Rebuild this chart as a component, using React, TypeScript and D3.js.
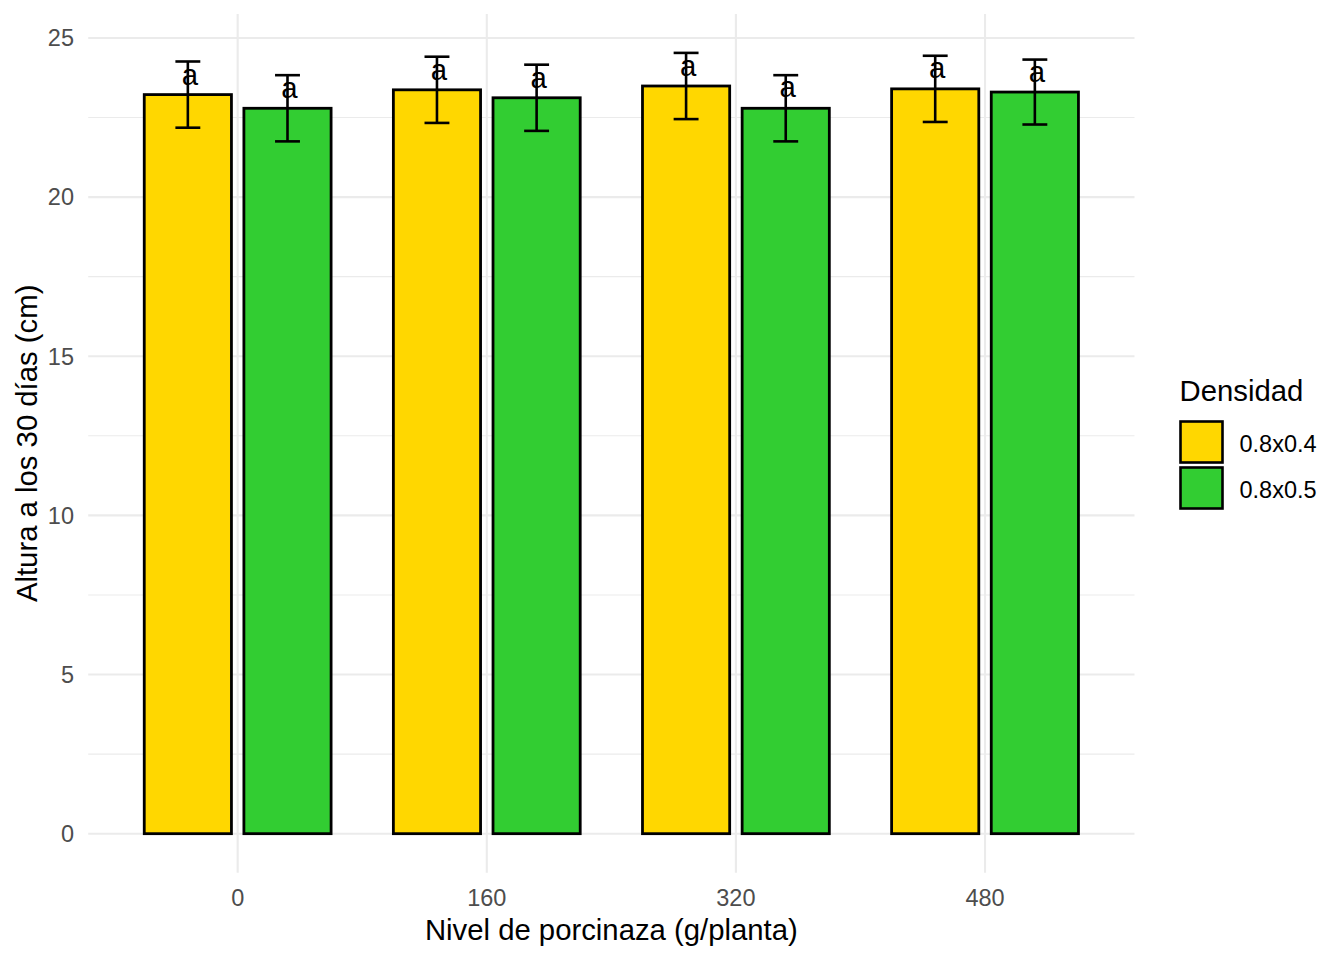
import React from "react";
import * as d3 from "d3";

const categories = ["0", "160", "320", "480"];
const series = ["0.8x0.4", "0.8x0.5"];
const seriesColors = ["#FFD700", "#32CD32"];
const meanA = [23.22, 23.37, 23.49, 23.40];
const meanB = [22.79, 23.12, 22.79, 23.30];
const seA = [1.04, 1.04, 1.04, 1.04];
const seB = [1.04, 1.04, 1.04, 1.02];
const lettersA = ["a", "a", "a", "a"];
const lettersB = ["a", "a", "a", "a"];
const labelYA = [23.76, 23.92, 24.05, 23.97];
const labelYB = [23.35, 23.68, 23.37, 23.87];
const yTicks = [0, 5, 10, 15, 20, 25];
const yMinor = [2.5, 7.5, 12.5, 17.5, 22.5];

const W = 1344;
const H = 960;
const panel = { left: 88.2, right: 1134.5, top: 14, bottom: 872.7 };
const FONT = "'Liberation Sans', Arial, sans-serif";

export default function App() {
  const means = [meanA, meanB];
  const ses = [seA, seB];
  const letters = [lettersA, lettersB];
  const labelYs = [labelYA, labelYB];

  const x = d3
    .scaleBand<string>()
    .domain(categories)
    .range([panel.left, panel.right])
    .paddingInner(0)
    .paddingOuter(0.1);
  const step = x.step();
  const xs = d3
    .scaleBand<string>()
    .domain(series)
    .range([-0.4 * step, 0.4 * step])
    .paddingInner(0.125)
    .paddingOuter(0.0625);
  const y = d3.scaleLinear().domain([-1.226, 25.752]).range([panel.bottom, panel.top]);
  const cx = (c: string) => (x(c) as number) + x.bandwidth() / 2;
  const capW = 0.1 * step;

  return (
    <svg width={W} height={H} style={{ display: "block", position: "absolute", left: 0, top: 0 }}>
      <rect width={W} height={H} fill="#FFFFFF" />
      {yMinor.map((v) => (
        <line key={"mn" + v} x1={panel.left} x2={panel.right} y1={y(v)} y2={y(v)} stroke="#EBEBEB" strokeWidth={1.1} />
      ))}
      {yTicks.map((v) => (
        <line key={"mj" + v} x1={panel.left} x2={panel.right} y1={y(v)} y2={y(v)} stroke="#EBEBEB" strokeWidth={2.1} />
      ))}
      {categories.map((c) => (
        <line key={"vx" + c} x1={cx(c)} x2={cx(c)} y1={panel.top} y2={panel.bottom} stroke="#EBEBEB" strokeWidth={2.1} />
      ))}
      {series.map((s, si) =>
        categories.map((c, ci) => {
          const x0 = cx(c) + (xs(s) as number);
          return (
            <rect
              key={"b" + si + ci}
              x={x0}
              width={xs.bandwidth()}
              y={y(means[si][ci])}
              height={y(0) - y(means[si][ci])}
              fill={seriesColors[si]}
              stroke="#000"
              strokeWidth={2.8}
            />
          );
        })
      )}
      {series.map((s, si) =>
        categories.map((c, ci) => {
          const xc = cx(c) + (xs(s) as number) + xs.bandwidth() / 2;
          const hi = y(means[si][ci] + ses[si][ci]);
          const lo = y(means[si][ci] - ses[si][ci]);
          return (
            <g key={"e" + si + ci} stroke="#000" strokeWidth={2.6}>
              <line x1={xc} x2={xc} y1={hi} y2={lo} />
              <line x1={xc - capW / 2} x2={xc + capW / 2} y1={hi} y2={hi} />
              <line x1={xc - capW / 2} x2={xc + capW / 2} y1={lo} y2={lo} />
            </g>
          );
        })
      )}
      {series.map((s, si) =>
        categories.map((c, ci) => {
          const xc = cx(c) + (xs(s) as number) + xs.bandwidth() / 2;
          return (
            <text
              key={"t" + si + ci}
              x={xc + 2}
              y={y(labelYs[si][ci]) + 7.6}
              textAnchor="middle"
              fontFamily={FONT}
              fontSize={29.3}
              fill="#000"
            >
              {letters[si][ci]}
            </text>
          );
        })
      )}
      {yTicks.map((v) => (
        <text key={"yl" + v} x={74} y={y(v) + 8.4} textAnchor="end" fontFamily={FONT} fontSize={23.5} fill="#4D4D4D">
          {v}
        </text>
      ))}
      {categories.map((c) => (
        <text key={"xl" + c} x={cx(c)} y={906} textAnchor="middle" fontFamily={FONT} fontSize={23.5} fill="#4D4D4D">
          {c}
        </text>
      ))}
      <text x={(panel.left + panel.right) / 2} y={940} textAnchor="middle" fontFamily={FONT} fontSize={29.3} fill="#000">
        Nivel de porcinaza (g/planta)
      </text>
      <text
        transform={`translate(37,${(panel.top + panel.bottom) / 2}) rotate(-90)`}
        textAnchor="middle"
        fontFamily={FONT}
        fontSize={29.3}
        fill="#000"
      >
        Altura a los 30 días (cm)
      </text>
      <text x={1179.5} y={401} fontFamily={FONT} fontSize={29.3} fill="#000">
        Densidad
      </text>
      {series.map((s, si) => (
        <g key={"lg" + si}>
          <rect x={1180.5} y={421.5 + si * 46} width={42} height={41} fill={seriesColors[si]} stroke="#000" strokeWidth={2.6} />
          <text x={1239.5} y={451.5 + si * 46} fontFamily={FONT} fontSize={23.5} fill="#000">
            {s}
          </text>
        </g>
      ))}
    </svg>
  );
}
